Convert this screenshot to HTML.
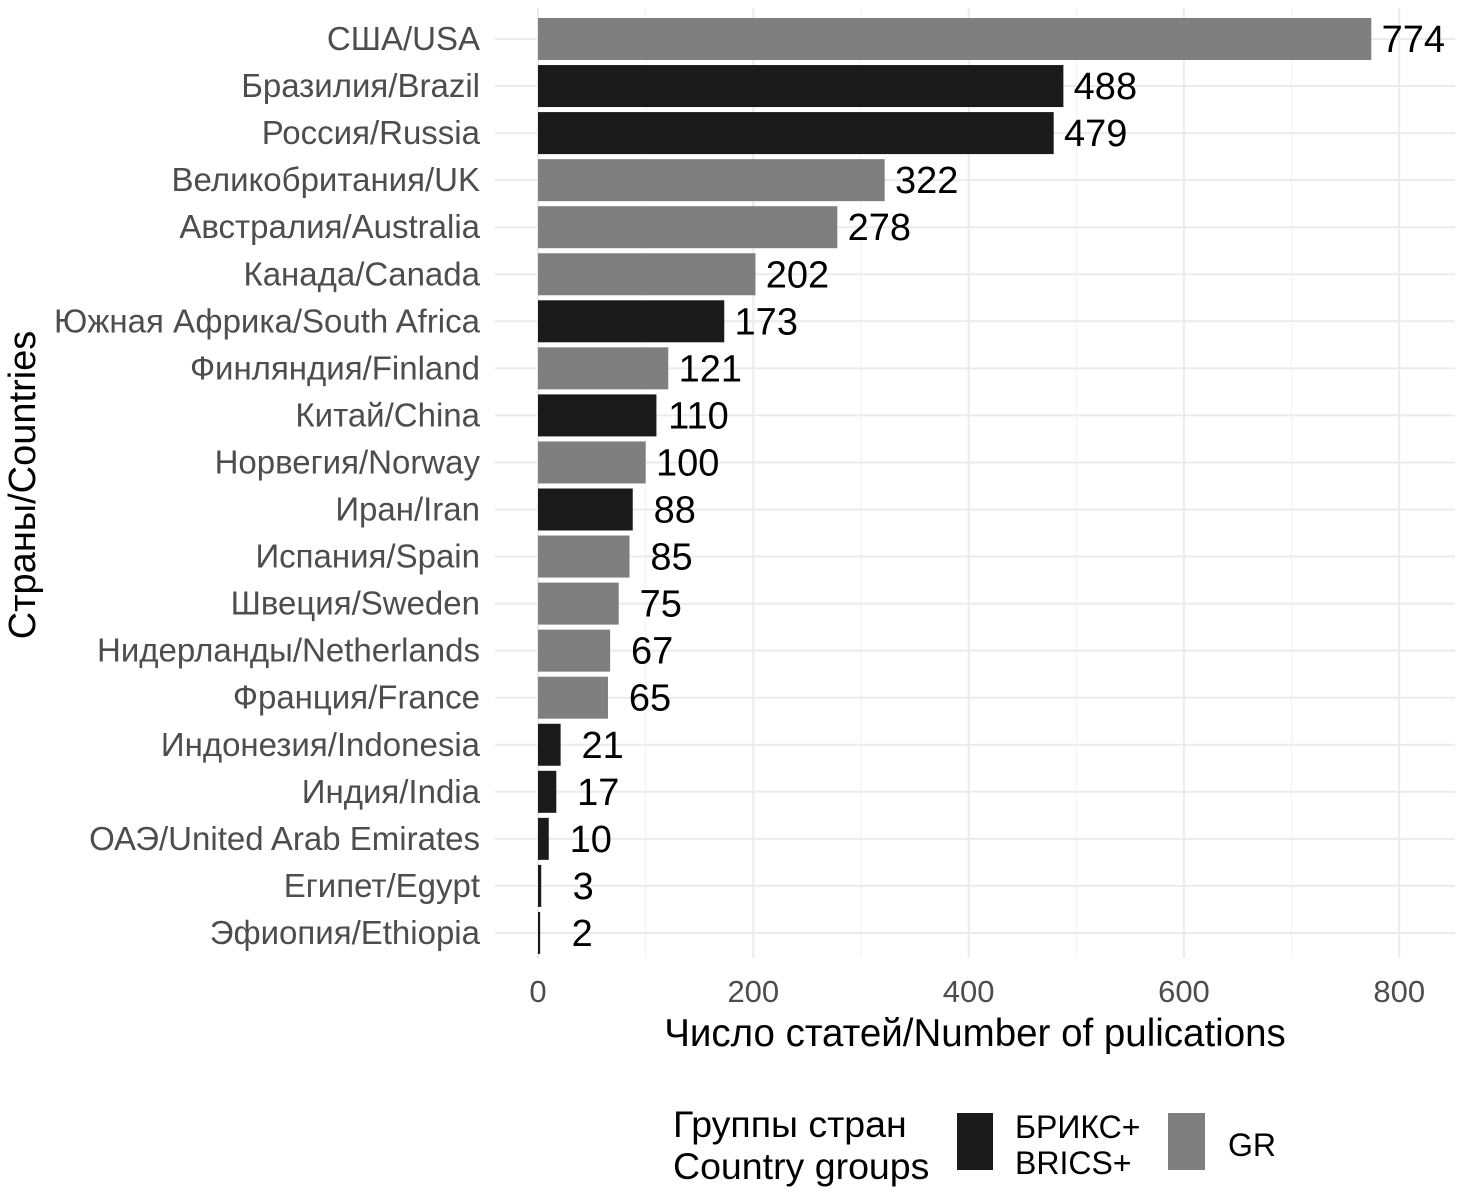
<!DOCTYPE html>
<html><head><meta charset="utf-8"><style>
body{margin:0;background:#fff;}
svg{display:block;font-family:"Liberation Sans",sans-serif;}
</style></head><body>
<svg id="chart" width="1473" height="1197"></svg>
<script>
const categories=["США/USA","Бразилия/Brazil","Россия/Russia","Великобритания/UK","Австралия/Australia","Канада/Canada","Южная Африка/South Africa","Финляндия/Finland","Китай/China","Норвегия/Norway","Иран/Iran","Испания/Spain","Швеция/Sweden","Нидерланды/Netherlands","Франция/France","Индонезия/Indonesia","Индия/India","ОАЭ/United Arab Emirates","Египет/Egypt","Эфиопия/Ethiopia"];
const values=[774,488,479,322,278,202,173,121,110,100,88,85,75,67,65,21,17,10,3,2];
const groups=["GR","BRICS","BRICS","GR","GR","GR","BRICS","GR","BRICS","GR","BRICS","GR","GR","GR","GR","BRICS","BRICS","BRICS","BRICS","BRICS"];
const xTicks=[0,200,400,600,800];
const xMinor=[100,300,500,700];
const NS="http://www.w3.org/2000/svg";
const svg=document.getElementById('chart');
const x=v=>538+v*1.0766;
const y=i=>39+i*47.05;
const pL=495,pR=1455,pT=8,pB=958;
function el(t,a,p){const e=document.createElementNS(NS,t);for(const k in a)e.setAttribute(k,a[k]);(p||svg).appendChild(e);return e;}
xMinor.forEach(v=>{const l=el('line',{x1:x(v),x2:x(v),y1:pT,y2:pB,stroke:'#f2f2f2','stroke-width':1});

});
xTicks.forEach(v=>{const l=el('line',{x1:x(v),x2:x(v),y1:pT,y2:pB,stroke:'#ebebeb','stroke-width':2});


const t=el('text',{x:x(v),y:1002,'text-anchor':'middle','font-size':31,fill:'#4d4d4d'});t.textContent=v;

});
categories.forEach((c,i)=>{const l=el('line',{x1:pL,x2:pR,y1:y(i),y2:y(i),stroke:'#ebebeb','stroke-width':2});

});
categories.forEach((c,i)=>{
const r=el('rect',{x:x(0),y:y(i)-21,width:Math.max(x(values[i])-x(0),1),height:42,fill:groups[i]=="GR"?'#7f7f7f':'#1a1a1a'});


const t=el('text',{x:480,y:y(i)+11,'text-anchor':'end','font-size':33,fill:'#4d4d4d'});t.textContent=c;


const v=el('text',{x:x(values[i])+42,y:y(i)+13,'text-anchor':'middle','font-size':38,fill:'#000'});v.textContent=values[i];


});
let t=el('text',{x:975,y:1046,'text-anchor':'middle','font-size':38.5,fill:'#000'});t.textContent="Число статей/Number of pulications";


t=el('text',{x:0,y:0,transform:'translate(35,485) rotate(-90)','text-anchor':'middle','font-size':38,fill:'#000'});t.textContent="Страны/Countries";


t=el('text',{x:673,y:1137,'font-size':37.5,fill:'#000'});t.textContent="Группы стран";


t=el('text',{x:673,y:1179,'font-size':37.5,fill:'#000'});t.textContent="Country groups";


let r=el('rect',{x:957,y:1113,width:36,height:57,fill:'#1a1a1a'});


r=el('rect',{x:1168,y:1113,width:37,height:57,fill:'#7f7f7f'});


t=el('text',{x:1015,y:1138,'font-size':32,fill:'#000'});t.textContent="БРИКС+";


t=el('text',{x:1015,y:1174,'font-size':32,fill:'#000'});t.textContent="BRICS+";


t=el('text',{x:1228,y:1156,'font-size':32,fill:'#000'});t.textContent="GR";


</script>
</body></html>
